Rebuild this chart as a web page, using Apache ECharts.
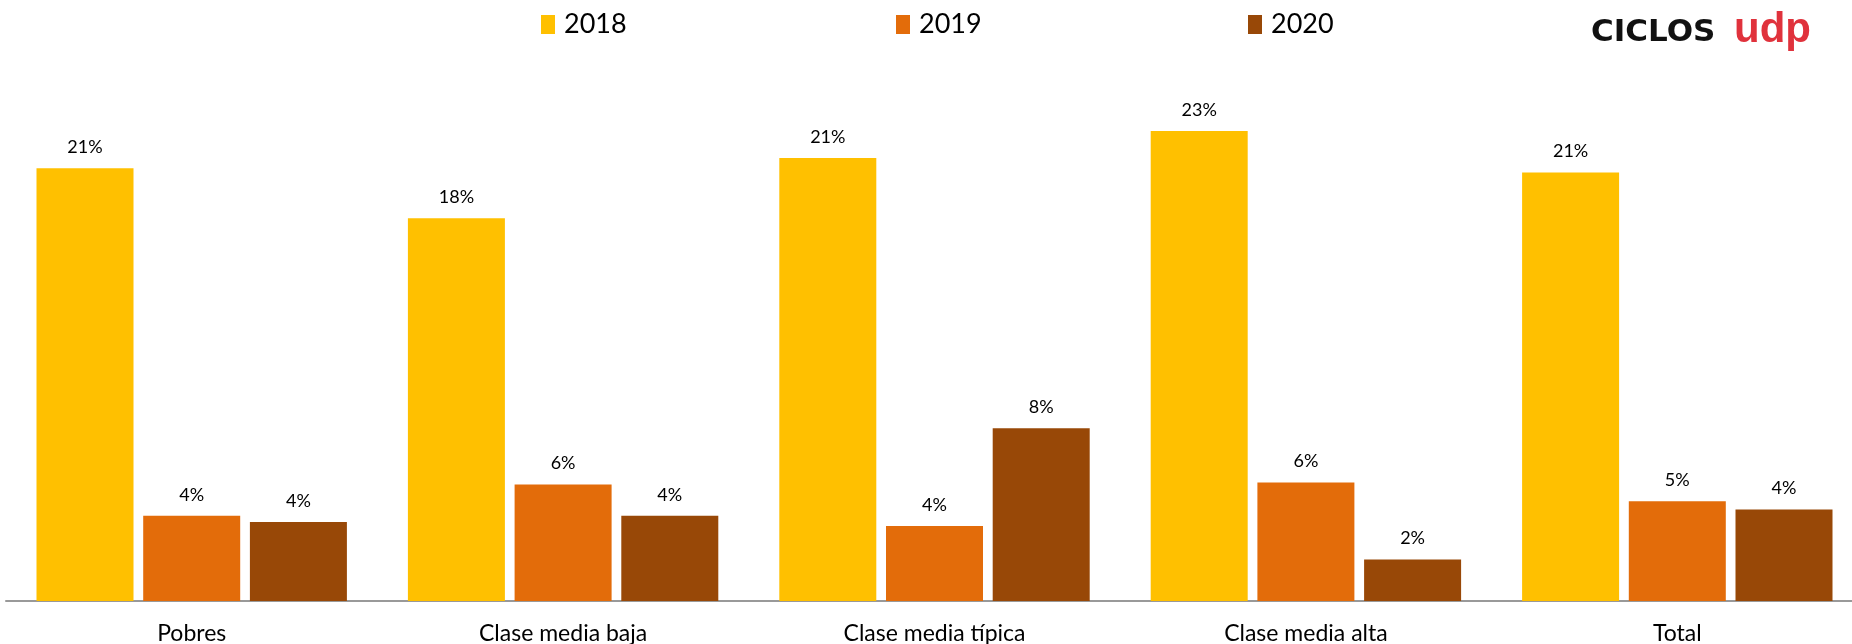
<!DOCTYPE html>
<html>
<head>
<meta charset="utf-8">
<script src="https://cdn.jsdelivr.net/npm/echarts@6/dist/echarts.min.js"></script>
<style>
html,body{margin:0;padding:0;background:#fff;overflow:hidden;}
#chart{width:1864px;height:644px;}
</style>
</head>
<body>
<div id="chart"></div>
<script>
const categories = ['Pobres', 'Clase media baja', 'Clase media típica', 'Clase media alta', 'Total'];
const seriesNames = ['2018', '2019', '2020'];
const values2018 = [20.8, 18.4, 21.3, 22.6, 20.6];
const values2019 = [4.1, 5.6, 3.6, 5.7, 4.8];
const values2020 = [3.8, 4.1, 8.3, 2.0, 4.4];
const colors = ['#FFC000', '#E36C0A', '#984807'];

const FONT = 'Lato';
const chart = echarts.init(document.getElementById('chart'));

function mkSeries(name, data, color) {
  return {
    name: name,
    type: 'bar',
    data: data,
    barWidth: 97,
    barGap: '10%',
    itemStyle: { color: color },
    label: {
      show: true,
      position: 'top',
      distance: 12,
      fontFamily: FONT,
      fontSize: 18,
      color: '#000',
      formatter: p => Math.round(p.value) + '%'
    }
  };
}

const legendPos = [541, 896, 1248];

chart.setOption({
  animation: false,
  backgroundColor: '#fff',
  legend: seriesNames.map((n, i) => ({
    data: [n],
    left: legendPos[i],
    top: 11,
    padding: 0,
    itemWidth: 14,
    itemHeight: 19,
    itemGap: 0,
    icon: 'rect',
    textStyle: { fontFamily: FONT, fontSize: 27, color: '#000', padding: [0, 0, 0, 4] }
  })),
  grid: { left: 6, width: 1857, top: 81, height: 520, containLabel: false, outerBoundsMode: 'none' },
  xAxis: {
    type: 'category',
    data: categories,
    axisLine: { lineStyle: { color: '#999', width: 2 } },
    axisTick: { show: false },
    axisLabel: { fontFamily: FONT, fontSize: 23, color: '#000', margin: 21 }
  },
  yAxis: {
    type: 'value',
    min: 0,
    max: 25,
    show: false,
    splitLine: { show: false }
  },
  graphic: [
    {
      type: 'text',
      left: 1591,
      top: 17,
      style: { text: 'CICLOS', fontFamily: 'DejaVu Sans', fontWeight: 'bold', fontSize: 31, fill: '#111' }
    },
    {
      type: 'text',
      left: 1734,
      top: 9,
      style: { text: 'udp', fontFamily: 'Liberation Sans', fontWeight: 'bold', fontSize: 42, fill: '#E0323C' }
    }
  ],
  series: [
    mkSeries(seriesNames[0], values2018, colors[0]),
    mkSeries(seriesNames[1], values2019, colors[1]),
    mkSeries(seriesNames[2], values2020, colors[2])
  ]
});
</script>
</body>
</html>
